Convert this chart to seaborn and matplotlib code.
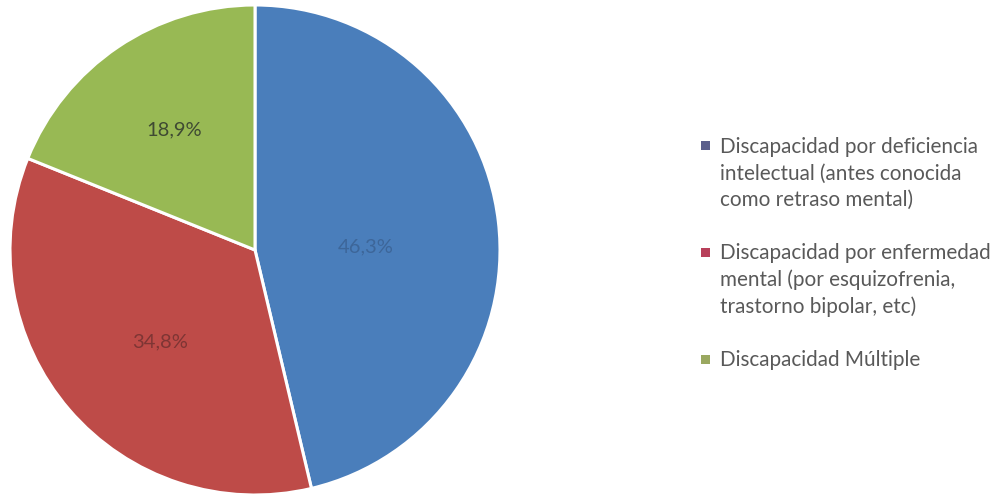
import matplotlib
matplotlib.use("Agg")
import matplotlib.pyplot as plt
import seaborn as sns
import numpy as np
from matplotlib.patches import Rectangle
from matplotlib.legend_handler import HandlerPatch

categories = [
    "Discapacidad por deficiencia\nintelectual (antes conocida\ncomo retraso mental)",
    "Discapacidad por enfermedad\nmental (por esquizofrenia,\ntrastorno bipolar, etc)",
    "Discapacidad Múltiple",
]
values = [46.3, 34.8, 18.9]
value_labels = ["46,3%", "34,8%", "18,9%"]

sns.set_style("white")
plt.rcParams["font.family"] = ["Lato", "DejaVu Sans"]

colors = sns.color_palette(["#4A7EBB", "#BE4B48", "#98B954"])
legend_colors = ["#5B5F8C", "#B8405A", "#9AA860"]
label_colors = ["#3D6699", "#7E3534", "#3F4A33"]
label_dist = [0.45, 0.54, 0.59]
label_angle_tweak = [-5.0, 3.5, 0.0]

fig = plt.figure(figsize=(10.05, 4.95), dpi=100)
ax = fig.add_axes([10 / 1005, 0.0, 490 / 1005, 490 / 495])

wedges, texts = ax.pie(values, startangle=90, counterclock=False,
                       colors=colors,
                       wedgeprops=dict(edgecolor="white", linewidth=2.2))
total = sum(values)
start = 90.0
for i, v in enumerate(values):
    span = 360 * v / total
    mid = np.deg2rad(start - span / 2 + label_angle_tweak[i])
    start -= span
    ax.text(label_dist[i] * np.cos(mid), label_dist[i] * np.sin(mid), value_labels[i],
            ha="center", va="center", fontsize=14.5, color=label_colors[i])
ax.set_xlim(-1.0, 1.0)
ax.set_ylim(-1.0, 1.0)
ax.set_aspect("equal")
ax.axis("off")

fs = 14.9
ls = 1.38


class TopHandler(HandlerPatch):
    def __init__(self, nlines, **kw):
        super().__init__(**kw)
        self.nlines = nlines

    def create_artists(self, legend, orig_handle, xdescent, ydescent, width, height, fontsize, trans):
        s = 0.45 * fontsize
        off = (self.nlines - 1) / 2 * ls * fontsize
        r = Rectangle((width - s - xdescent, (height - s) / 2 - ydescent + off), s, s,
                      facecolor=orig_handle.get_facecolor(), edgecolor="none", transform=trans)
        return [r]


handles = [Rectangle((0, 0), 1, 1, facecolor=c) for c in legend_colors]
hmap = {h: TopHandler(lab.count("\n") + 1) for h, lab in zip(handles, categories)}
leg = fig.legend(handles, categories, loc="center left", bbox_to_anchor=(0.676, 0.487),
                 frameon=False, fontsize=fs, labelcolor="#595959", handler_map=hmap,
                 handlelength=0.6, handletextpad=0.45, labelspacing=1.62)
for t in leg.get_texts():
    t.set_linespacing(ls)

fig.savefig("out.png", dpi=100, facecolor="white")
